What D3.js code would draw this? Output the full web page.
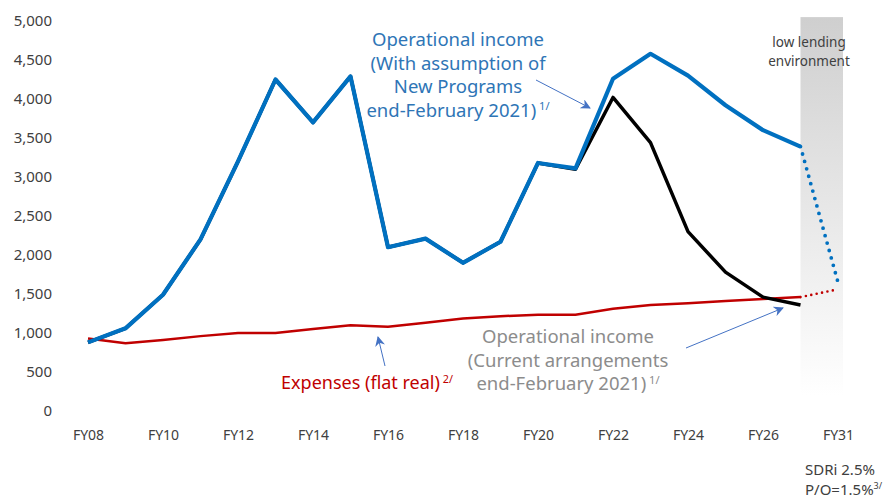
<!DOCTYPE html>
<html>
<head>
<meta charset="utf-8">
<script src="https://cdn.jsdelivr.net/npm/d3@7"></script>
<style>
  body { margin: 0; background: #fff; }
  svg { display: block; font-family: "Noto Sans", "Open Sans", sans-serif; }
</style>
</head>
<body>
<div id="chart"></div>
<script>
const years = ["FY08","FY09","FY10","FY11","FY12","FY13","FY14","FY15","FY16","FY17",
  "FY18","FY19","FY20","FY21","FY22","FY23","FY24","FY25","FY26","FY27","FY31"]
const yTicks = [0, 500, 1000, 1500, 2000, 2500, 3000, 3500, 4000, 4500, 5000]

// FY08..FY27
const incomeNew = [880, 1060, 1490, 2200, 3200, 4250, 3700, 4290, 2100, 2210,
  1900, 2170, 3180, 3110, 4260, 4580, 4300, 3920, 3600, 3390]
const incomeCurrent = [880, 1060, 1490, 2200, 3200, 4250, 3700, 4290, 2100, 2210,
  1900, 2170, 3180, 3100, 4020, 3440, 2300, 1780, 1460, 1360]
const expenses = [930, 870, 910, 960, 1000, 1000, 1050, 1100, 1080, 1130,
  1185, 1215, 1235, 1235, 1310, 1360, 1380, 1410, 1435, 1460]
// low lending scenario, FY31
const incomeLow = 1650
const expensesLow = 1560

const width = 885, height = 500
const svg = d3.select("#chart").append("svg")
  .attr("width", width).attr("height", height)

const x = d3.scalePoint().domain(years).range([88, 838])
const y = d3.scaleLinear().domain([0, 5000]).range([411, 21])

const defs = svg.append("defs")
const grad = defs.append("linearGradient").attr("id", "band")
  .attr("x1", 0).attr("y1", 0).attr("x2", 0).attr("y2", 1)
grad.append("stop").attr("offset", "0%").attr("stop-color", "#cfcfcf")
grad.append("stop").attr("offset", "100%").attr("stop-color", "#ffffff")

defs.append("marker").attr("id", "arr")
  .attr("viewBox", "0 0 10 10").attr("refX", 9).attr("refY", 5)
  .attr("markerWidth", 10).attr("markerHeight", 10).attr("orient", "auto")
  .attr("markerUnits", "userSpaceOnUse")
  .append("path").attr("d", "M0,0 L10,5 L0,10 L3,5 Z").attr("fill", "#4472c4")

// low lending band
svg.append("rect")
  .attr("x", x("FY27")).attr("y", y(5050))
  .attr("width", x("FY31") - x("FY27") + 5)
  .attr("height", y(200) - y(5050))
  .attr("fill", "url(#band)")

// axes
const yAxis = svg.append("g").attr("transform", "translate(60,0)")
  .call(d3.axisLeft(y).tickValues(yTicks).tickSize(0).tickPadding(8).tickFormat(d3.format(",")))
yAxis.select(".domain").remove()
yAxis.selectAll("text").attr("font-size", 15).attr("fill", "#404040")
  .attr("font-family", "Noto Sans")

const xAxis = svg.append("g").attr("transform", "translate(0,430)")
  .call(d3.axisBottom(x).tickValues(years.filter((d, i) => i % 2 === 0)).tickSize(0).tickPadding(0))
xAxis.select(".domain").remove()
xAxis.selectAll("text").attr("font-size", 14).attr("fill", "#404040")
  .attr("font-family", "Noto Sans")

const solid = years.slice(0, 20)
const line = d3.line().x((d, i) => x(solid[i])).y(d => y(d))

svg.append("path").datum(expenses).attr("d", line)
  .attr("fill", "none").attr("stroke", "#c00000").attr("stroke-width", 2.5)
svg.append("path").datum(incomeCurrent).attr("d", line)
  .attr("fill", "none").attr("stroke", "#000").attr("stroke-width", 3.5)
  .attr("stroke-linejoin", "round")
svg.append("path").datum(incomeNew).attr("d", line)
  .attr("fill", "none").attr("stroke", "#0070c0").attr("stroke-width", 4.2)
  .attr("stroke-linejoin", "round")

// dotted projections to FY31
svg.append("line")
  .attr("x1", x("FY27")).attr("y1", y(incomeNew[19]))
  .attr("x2", x("FY31")).attr("y2", y(incomeLow))
  .attr("stroke", "#0070c0").attr("stroke-width", 3.8)
  .attr("stroke-linecap", "round").attr("stroke-dasharray", "0 7.7")
svg.append("line")
  .attr("x1", x("FY27")).attr("y1", y(expenses[19]))
  .attr("x2", x("FY31")).attr("y2", y(expensesLow))
  .attr("stroke", "#c00000").attr("stroke-width", 2.6)
  .attr("stroke-linecap", "round").attr("stroke-dasharray", "0 5.5")

// annotations
function block(lines, cx, y0, dy, size, color) {
  const t = svg.append("text").attr("text-anchor", "middle")
    .attr("font-size", size).attr("fill", color)
  lines.forEach((l, i) => {
    const ts = t.append("tspan").attr("x", cx).attr("y", y0 + i * dy)
    ts.append("tspan").text(l[0])
    if (l[1]) ts.append("tspan").attr("font-size", size * 0.6).attr("dy", -size * 0.35).text(" " + l[1])
  })
  return t
}

block([["Operational income"], ["(With assumption of"], ["New Programs"], ["end-February 2021)", "1/"]],
  458, 46, 23.5, 18.5, "#2e75b6")
block([["Operational income"], ["(Current arrangements"], ["end-February 2021)", "1/"]],
  568, 343, 23.5, 18.5, "#8c8c8c")
block([["Expenses (flat real)", "2/"]], 367, 389, 0, 18, "#c00000")
block([["low lending"], ["environment"]], 809, 47, 19, 13.5, "#404040")

svg.append("text").attr("x", 805).attr("y", 475).attr("font-size", 15).attr("fill", "#404040")
  .text("SDRi 2.5%")
const po = svg.append("text").attr("x", 805).attr("y", 495).attr("font-size", 15).attr("fill", "#404040")
po.append("tspan").text("P/O=1.5%")
po.append("tspan").attr("font-size", 9).attr("dy", -6).text("3/")

const arrows = [
  [536, 80, 590, 108],
  [686, 348, 783, 308],
  [385, 366, 378, 337]
]
svg.selectAll(".arr").data(arrows).join("line")
  .attr("x1", d => d[0]).attr("y1", d => d[1]).attr("x2", d => d[2]).attr("y2", d => d[3])
  .attr("stroke", "#4472c4").attr("stroke-width", 1).attr("marker-end", "url(#arr)")
</script>
</body>
</html>
